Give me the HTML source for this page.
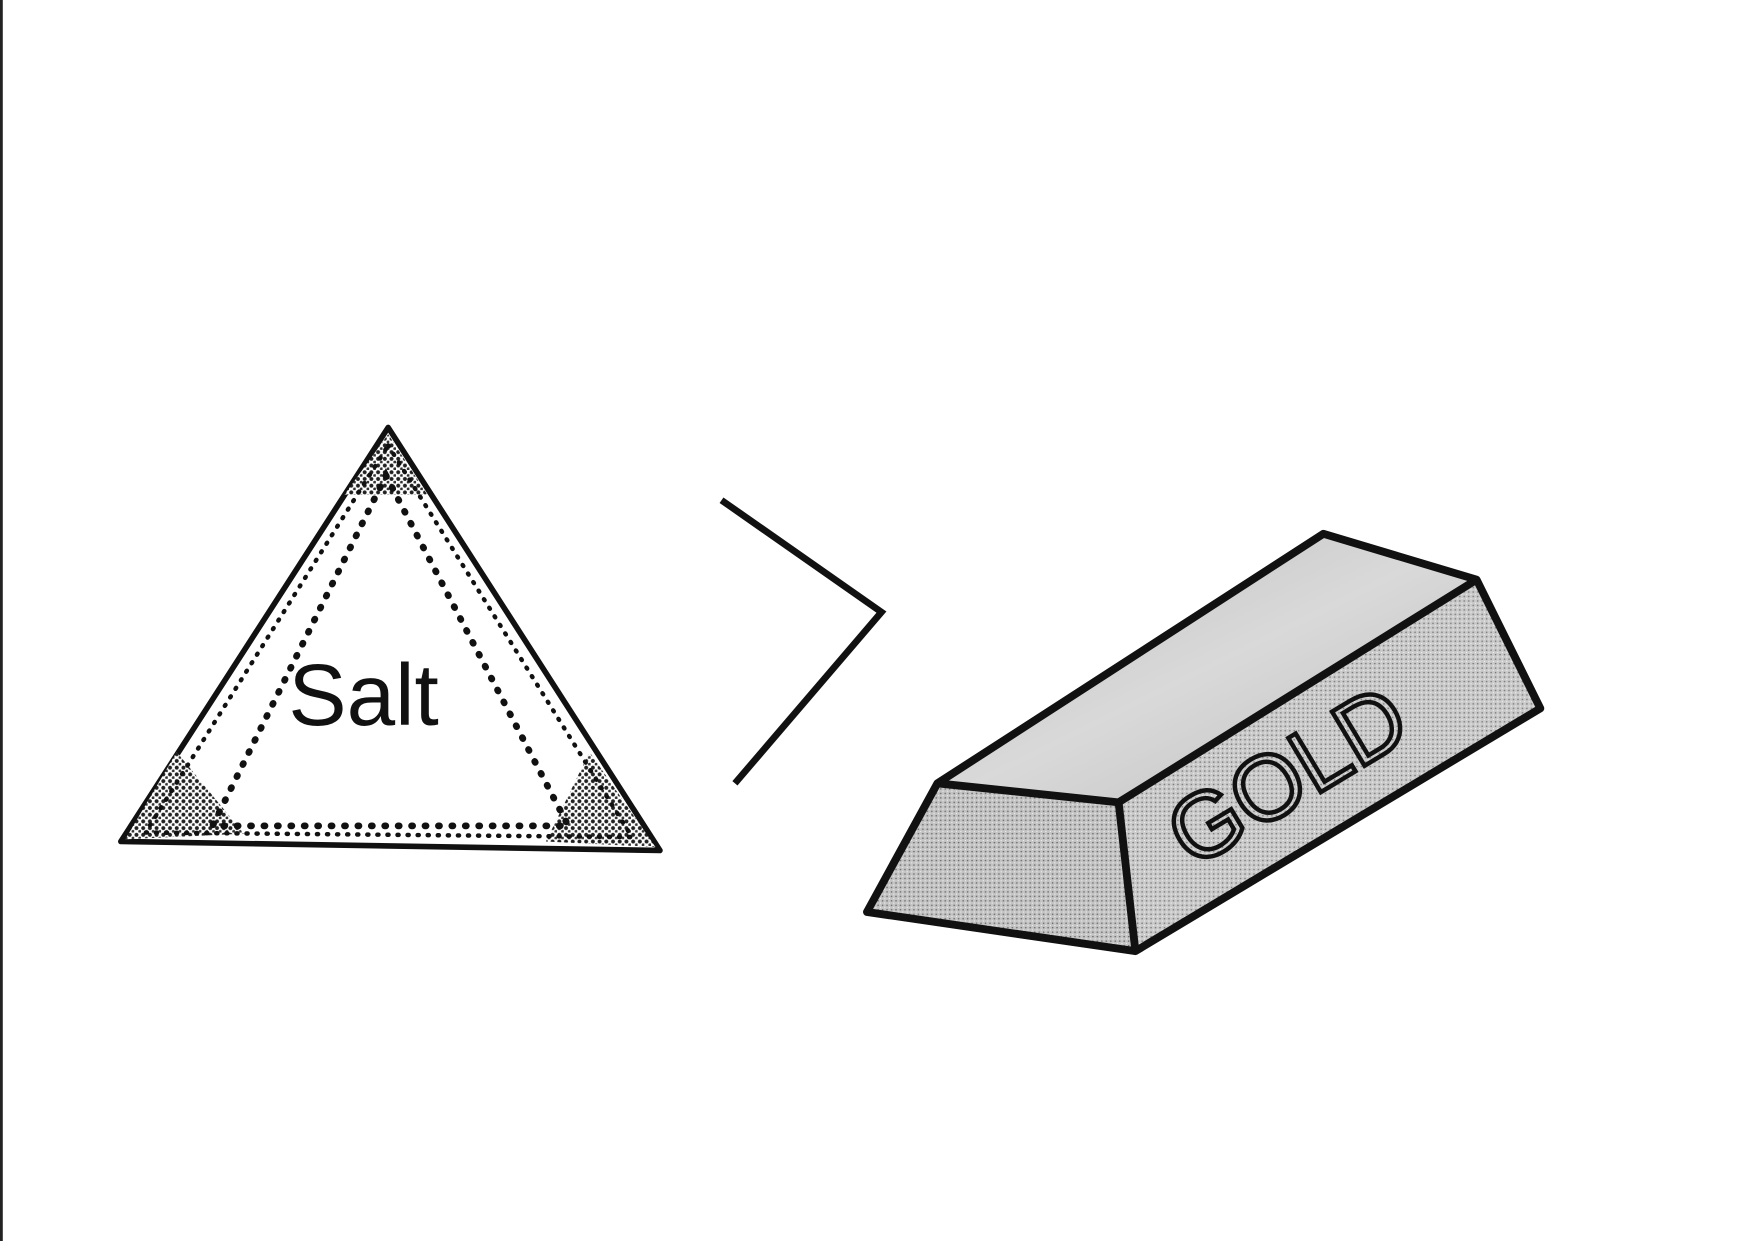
<!DOCTYPE html>
<html><head><meta charset="utf-8">
<style>
html,body{margin:0;padding:0;background:#fff;}
svg{display:block;}
</style></head>
<body>
<svg width="1754" height="1241" viewBox="0 0 1568 1109" preserveAspectRatio="none" xmlns="http://www.w3.org/2000/svg">
<defs>
<pattern id="dots" width="6" height="6" patternUnits="userSpaceOnUse">
<rect width="6" height="6" fill="#fff"/>
<circle cx="2" cy="2" r="1.8" fill="#222"/>
<circle cx="5" cy="5" r="1.4" fill="#333"/>
</pattern>
<pattern id="gray" width="4" height="4" patternUnits="userSpaceOnUse">
<rect width="4" height="4" fill="#c4c4c4"/>
<circle cx="1" cy="1" r="0.7" fill="#666"/>
<circle cx="3" cy="3" r="0.5" fill="#fff"/>
</pattern>
<linearGradient id="topg" x1="0" y1="0" x2="1" y2="1">
<stop offset="0" stop-color="#bdbdbd"/><stop offset="0.5" stop-color="#d9d9d9"/><stop offset="1" stop-color="#bcbcbc"/>
</linearGradient>
</defs>
<rect width="1568" height="1109" fill="#fff"/>
<line x1="1" y1="0" x2="1" y2="1109" stroke="#222" stroke-width="3"/>

<g>
<polygon points="347,382 590,760 108,752" fill="#fff" stroke="#111" stroke-width="5" stroke-linejoin="round"/>
<polygon points="347,388 382,442 308,442" fill="url(#dots)"/>
<polygon points="158,672 218,745 112,750" fill="url(#dots)"/>
<polygon points="527,672 586,757 488,752" fill="url(#dots)"/>
<polygon points="345,425 508,738 190,738" fill="none" stroke="#111" stroke-width="6" stroke-dasharray="1 11" stroke-linecap="round"/>
<polygon points="347,398 565,748 130,744" fill="none" stroke="#111" stroke-width="4" stroke-dasharray="1 8" stroke-linecap="round"/>
<text x="325" y="648" text-anchor="middle" font-family="Liberation Sans, sans-serif" font-size="78" fill="#111">Salt</text>
</g>

<polyline points="645,447 788,547 657,700" fill="none" stroke="#111" stroke-width="6" stroke-linejoin="miter"/>

<g>
<polygon points="838,700 1183,477 1320,518 1000,717" fill="url(#topg)"/>
<polygon points="838,700 1000,717 1015,850 775,815" fill="url(#gray)"/>
<polygon points="1000,717 1320,518 1377,633 1015,850" fill="url(#gray)" opacity="0.9"/>
<polygon points="838,700 1183,477 1320,518 1377,633 1015,850 775,815" fill="none" stroke="#111" stroke-width="7" stroke-linejoin="round"/>
<polyline points="838,700 1000,717 1320,518" fill="none" stroke="#111" stroke-width="7" stroke-linejoin="round"/>
<line x1="1000" y1="717" x2="1015" y2="850" stroke="#111" stroke-width="7"/>
<text x="1155" y="720" text-anchor="middle" font-family="Liberation Sans, sans-serif" font-size="82" fill="none" stroke="#111" stroke-width="4" transform="rotate(-31 1155 700)">GOLD</text>
</g>
</svg>
</body></html>
